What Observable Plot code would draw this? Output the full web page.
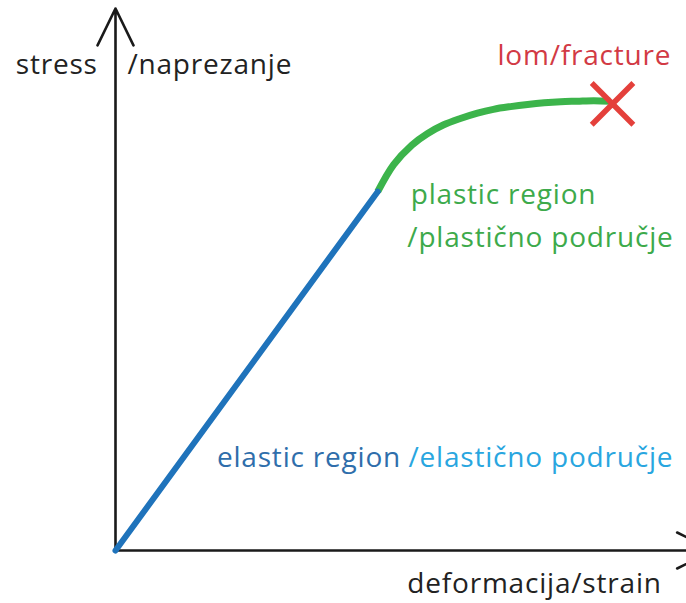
<!DOCTYPE html>
<html>
<head>
<meta charset="utf-8">
<script src="https://cdn.jsdelivr.net/npm/d3@7"></script>
<script src="https://cdn.jsdelivr.net/npm/@observablehq/plot@0.6"></script>
<style>
  html, body { margin: 0; padding: 0; background: #fff; overflow: hidden; }
</style>
</head>
<body>
<div id="chart"></div>
<script>
// Elastic region (straight line), arbitrary units: strain, stress
const elasticStrain = [0, 4.6];
const elasticStress = [0, 6.62];
// Plastic region (curve up to fracture)
const plasticStrain = [4.6, 4.88, 5.2, 5.47, 5.75, 6.05, 6.35, 6.63, 6.93, 7.23, 7.52, 7.81, 8.1, 8.39, 8.68];
const plasticStress = [6.62, 7.12, 7.48, 7.69, 7.85, 7.97, 8.07, 8.14, 8.19, 8.23, 8.26, 8.28, 8.29, 8.30, 8.29];
// Fracture point
const fractureStrain = [8.72];
const fractureStress = [8.24];
// Axes extents
const axisMax = 10.5;

// Label texts
const labelTexts = ["stress", "/naprezanje", "lom/fracture", "plastic region", "/plastično područje", "elastic region", "/elastično područje", "deformacija/strain"];
const labelX = [-1.75, 0.21, 6.70, 5.18, 5.12, 1.78, 5.14, 5.12];
const labelY = [8.96, 8.96, 9.12, 6.55, 5.76, 1.70, 1.70, -0.61];
const labelColors = ["#222222", "#222222", "#d23a44", "#3daa4b", "#3daa4b", "#2f6eab", "#29a6df", "#222222"];

const elastic = elasticStrain.map((x, i) => ({x, y: elasticStress[i]}));
const plastic = plasticStrain.map((x, i) => ({x, y: plasticStress[i]}));
const fracture = fractureStrain.map((x, i) => ({x, y: fractureStress[i]}));
const labels = labelTexts.map((t, i) => ({t, x: labelX[i], y: labelY[i], c: labelColors[i]}));

const axisStroke = 2.6;
const headLen = 41 * 1.5 / axisStroke;

const chart = Plot.plot({
  width: 686,
  height: 603,
  marginLeft: 0, marginRight: 0, marginTop: 0, marginBottom: 0,
  x: {domain: [0, 10], range: [115, 685], axis: null},
  y: {domain: [0, 10], range: [550, 8], axis: null},
  style: {fontFamily: "'Open Sans', sans-serif", background: "#fff"},
  marks: [
    Plot.arrow([{x1: 0, y1: 0, x2: 0, y2: 10}], {
      x1: "x1", y1: "y1", x2: "x2", y2: "y2",
      stroke: "#1a1a1a", strokeWidth: axisStroke, headLength: headLen, headAngle: 52, bend: 0
    }),
    Plot.arrow([{x1: 0, y1: 0, x2: axisMax, y2: 0}], {
      x1: "x1", y1: "y1", x2: "x2", y2: "y2",
      stroke: "#1a1a1a", strokeWidth: axisStroke, headLength: headLen, headAngle: 52, bend: 0, clip: true
    }),
    Plot.line(plastic, {x: "x", y: "y", stroke: "#3cb44b", strokeWidth: 7, curve: "catmull-rom", strokeLinecap: "butt"}),
    Plot.line(elastic, {x: "x", y: "y", stroke: "#1f73bb", strokeWidth: 6, strokeLinecap: "round"}),
    Plot.dot(fracture, {x: "x", y: "y", symbol: "times", r: 19, stroke: "#e4403b", strokeWidth: 5.5}),
    Plot.text(labels, {
      x: "x", y: "y", text: "t", fill: "c", textAnchor: "start",
      fontSize: 28, lineAnchor: "middle"
    })
  ]
});
chart.querySelectorAll("text").forEach(t => t.setAttribute("letter-spacing", "0.8"));
document.getElementById("chart").appendChild(chart);
</script>
</body>
</html>
